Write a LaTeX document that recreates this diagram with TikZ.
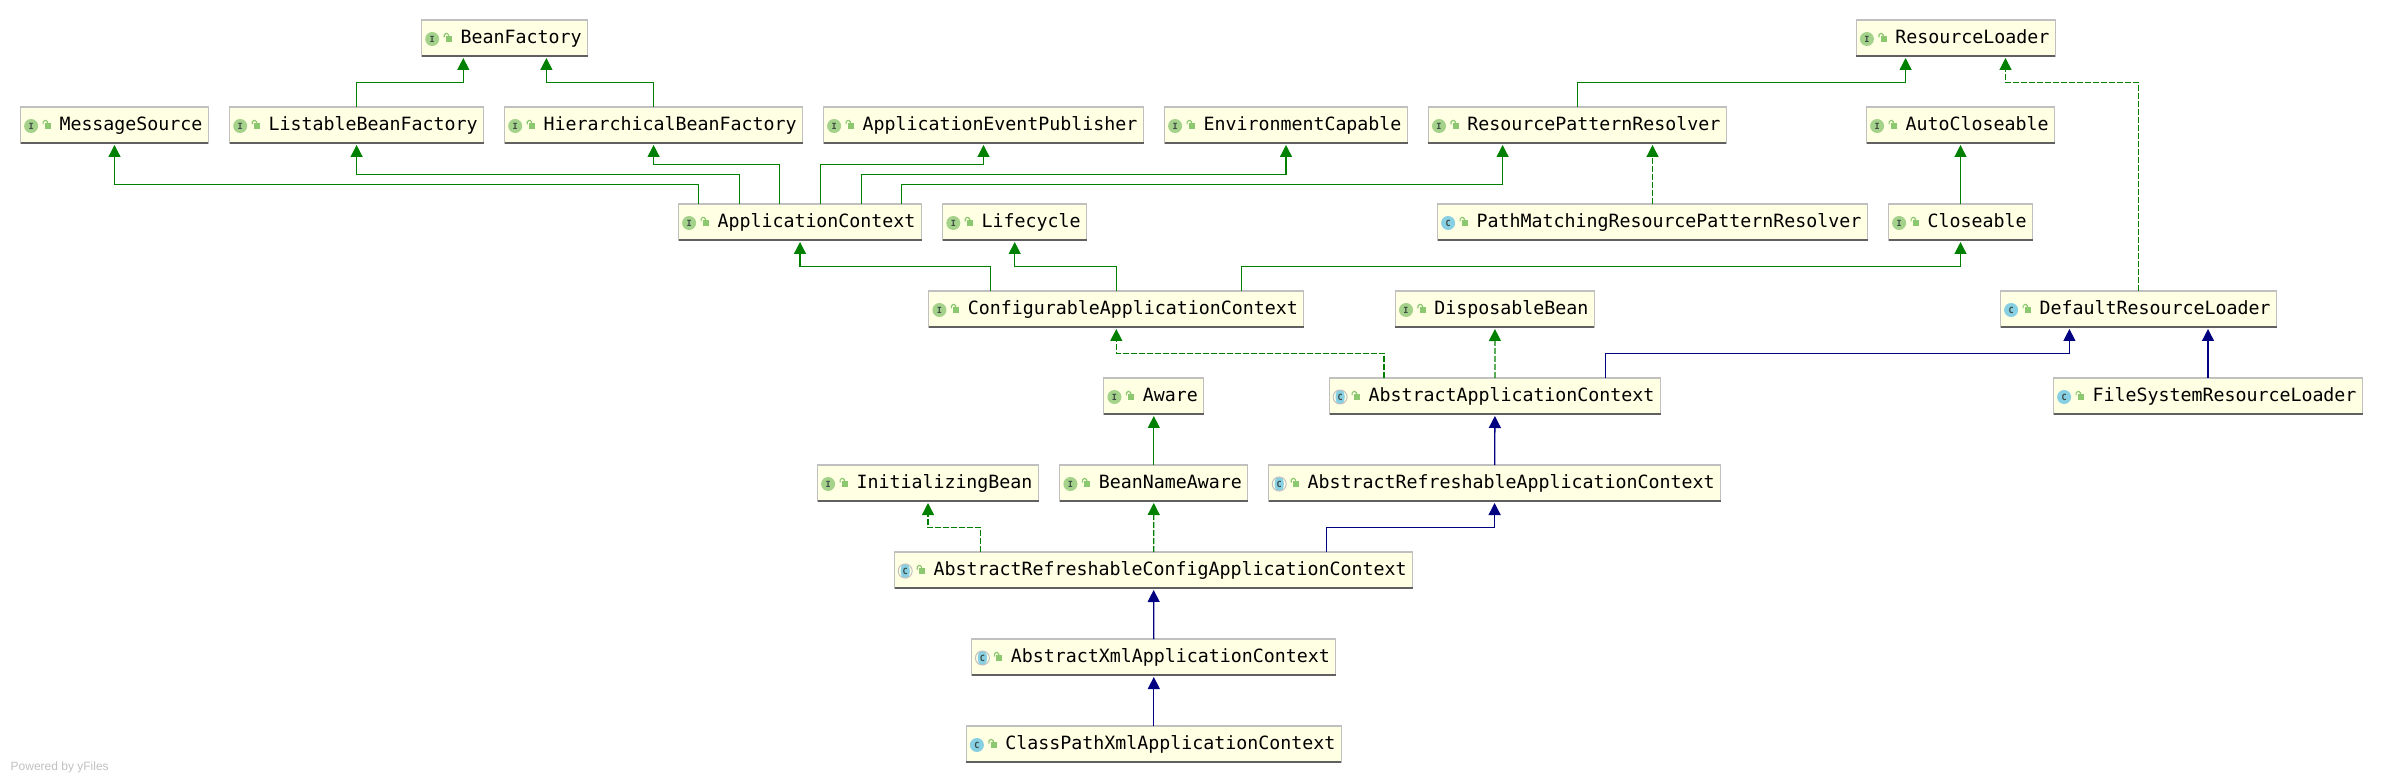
\documentclass[tikz,border=0pt]{standalone}
\usepackage{fontspec}
\setmainfont{Liberation Sans}
\setmonofont{DejaVu Sans Mono}
\usepackage{tikz}
\usetikzlibrary{calc,arrows.meta,positioning}
\definecolor{verde}{HTML}{008000}
\definecolor{azul}{HTML}{000080}
\definecolor{crema}{HTML}{FFFFE4}
\definecolor{borde}{HTML}{C0C0C0}
\definecolor{pie}{HTML}{606060}
\definecolor{iconverde}{HTML}{A4D28A}
\definecolor{iconazul}{HTML}{87CFE2}
\definecolor{candado}{HTML}{8CC870}
\definecolor{letra}{HTML}{3C4A44}
\tikzset{
  clsbox/.style={draw=borde,fill=crema,line width=1.3pt,outer sep=0pt,inner xsep=6pt,inner ysep=4pt,
    text height=19.3pt,text depth=8.7pt,font=\ttfamily\fontsize{18.27}{20}\selectfont},
  boxfoot/.style={pie,line width=2pt},
  iconbase/.style={circle,minimum size=14pt,inner sep=0pt,font=\ttfamily\bfseries\fontsize{8.5}{9}\selectfont,text=letra},
  iconI/.style={iconbase,fill=iconverde},
  iconC/.style={iconbase,fill=iconazul},
  iconA/.style={iconbase,draw=borde,line width=1pt,fill=crema,
    path picture={\fill[iconazul] (path picture bounding box.center) ellipse (4.6pt and 8pt);}},
  lockbody/.style={candado},
  lockbar/.style={candado,line width=1.2pt,rounded corners=1.5pt},
  ifaceext/.style={verde,line width=1.3pt,-{Triangle[length=12pt,width=12pt]},shorten >=2pt},
  ifaceimpl/.style={ifaceext,dash pattern=on 6pt off 2pt},
  classext/.style={azul,line width=1.3pt,-{Triangle[length=12pt,width=12pt]},shorten >=2pt},
}
\begin{document}
\begin{tikzpicture}[x=1pt,y=-1pt]
  \useasboundingbox (0,0) rectangle (2383,783);
  \foreach \n/\x/\y/\k/\t in {
    BeanFactory/504.6/38/I/I, ResourceLoader/1955.8/38/I/I,
    MessageSource/114.5/125/I/I, ListableBeanFactory/356.6/125/I/I,
    HierarchicalBeanFactory/653.6/125/I/I, ApplicationEventPublisher/983.5/125/I/I,
    EnvironmentCapable/1286/125/I/I, ResourcePatternResolver/1577.4/125/I/I,
    AutoCloseable/1960.5/125/I/I,
    ApplicationContext/800/222/I/I, Lifecycle/1014.7/222/I/I,
    PathMatchingResourcePatternResolver/1652.5/222/C/C, Closeable/1960.5/222/I/I,
    ConfigurableApplicationContext/1116.3/309/I/I, DisposableBean/1494.9/309/I/I,
    DefaultResourceLoader/2138.5/309/C/C,
    Aware/1153.8/396/I/I, AbstractApplicationContext/1495/396/A/C,
    FileSystemResourceLoader/2208/396/C/C,
    InitializingBean/928/483/I/I, BeanNameAware/1153.8/483/I/I,
    AbstractRefreshableApplicationContext/1494.6/483/A/C,
    AbstractRefreshableConfigApplicationContext/1153.6/570/A/C,
    AbstractXmlApplicationContext/1153.8/657/A/C,
    ClassPathXmlApplicationContext/1153.8/744/C/C}{
    \node[clsbox] (\n) at (\x,\y) {\hspace*{33pt}\n};
    \draw[boxfoot] (\n.south west) -- (\n.south east);
    \node[icon\k] (\n-icon) at ($(\n.west)+(10.6,1)$) {\t};
    \fill[lockbody] ($(\n.west)+(24.6,-1.7)$) rectangle ($(\n.west)+(30.6,3.7)$);
    \draw[lockbar] ($(\n.west)+(22.6,-0.5)$) -- ++(0,-4) -- ++(4.4,0) -- ++(0,2.5);
  }

  \draw[ifaceext] (ListableBeanFactory.north) -- ++(0,-24.7) -| ([xshift=-41.3pt]BeanFactory.south);
  \draw[ifaceext] (HierarchicalBeanFactory.north) -- ++(0,-24.7) -| ([xshift=41.8pt]BeanFactory.south);
  \draw[ifaceext] ([xshift=-101.5pt]ApplicationContext.north) -- ++(0,-19.7) -| (MessageSource.south);
  \draw[ifaceext] ([xshift=-60.7pt]ApplicationContext.north) -- ++(0,-29.7) -| (ListableBeanFactory.south);
  \draw[ifaceext] ([xshift=-20.4pt]ApplicationContext.north) -- ++(0,-39.7) -| (HierarchicalBeanFactory.south);
  \draw[ifaceext] ([xshift=20.4pt]ApplicationContext.north) -- ++(0,-39.7) -| (ApplicationEventPublisher.south);
  \draw[ifaceext] ([xshift=61.7pt]ApplicationContext.north) -- ++(0,-29.7) -| (EnvironmentCapable.south);
  \draw[ifaceext] ([xshift=101.5pt]ApplicationContext.north) -- ++(0,-19.7) -| ([xshift=-74.8pt]ResourcePatternResolver.south);
  \draw[ifaceext] (ResourcePatternResolver.north) -- ++(0,-24.7) -| ([xshift=-50.2pt]ResourceLoader.south);
  \draw[ifaceimpl] (PathMatchingResourcePatternResolver.north) -- (PathMatchingResourcePatternResolver.north |- ResourcePatternResolver.south);
  \draw[ifaceext] (Closeable) -- (AutoCloseable);
  \draw[ifaceext] ([xshift=-126pt]ConfigurableApplicationContext.north) -- ++(0,-24.7) -| (ApplicationContext.south);
  \draw[ifaceext] (ConfigurableApplicationContext.north) -- ++(0,-24.7) -| (Lifecycle.south);
  \draw[ifaceext] ([xshift=125pt]ConfigurableApplicationContext.north) -- ++(0,-24.7) -| (Closeable.south);
  \draw[ifaceimpl] (DefaultResourceLoader.north) -- ++(0,-208.7) -| ([xshift=49.7pt]ResourceLoader.south);
  \draw[ifaceimpl] ([xshift=-111pt]AbstractApplicationContext.north) -- ++(0,-24.7) -| (ConfigurableApplicationContext.south);
  \draw[ifaceimpl] (AbstractApplicationContext) -- (DisposableBean);
  \draw[classext] ([xshift=110.5pt]AbstractApplicationContext.north) -- ++(0,-24.7) -| ([xshift=-69.1pt]DefaultResourceLoader.south);
  \draw[classext] (FileSystemResourceLoader.north) -- ([xshift=69.5pt]DefaultResourceLoader.south);
  \draw[classext] (AbstractRefreshableApplicationContext) -- (AbstractApplicationContext);
  \draw[ifaceext] (BeanNameAware) -- (Aware);
  \draw[ifaceimpl] ([xshift=-173pt]AbstractRefreshableConfigApplicationContext.north) -- ++(0,-24.7) -| (InitializingBean.south);
  \draw[ifaceimpl] (AbstractRefreshableConfigApplicationContext) -- (BeanNameAware);
  \draw[classext] ([xshift=173pt]AbstractRefreshableConfigApplicationContext.north) -- ++(0,-24.7) -| (AbstractRefreshableApplicationContext.south);
  \draw[classext] (AbstractXmlApplicationContext) -- (AbstractRefreshableConfigApplicationContext);
  \draw[classext] (ClassPathXmlApplicationContext) -- (AbstractXmlApplicationContext);

  \node[anchor=west,inner sep=0pt,text=borde,font=\fontsize{12}{14}\selectfont] (poweredby) at (10.5,767) {Powered by yFiles};
\end{tikzpicture}
\end{document}
